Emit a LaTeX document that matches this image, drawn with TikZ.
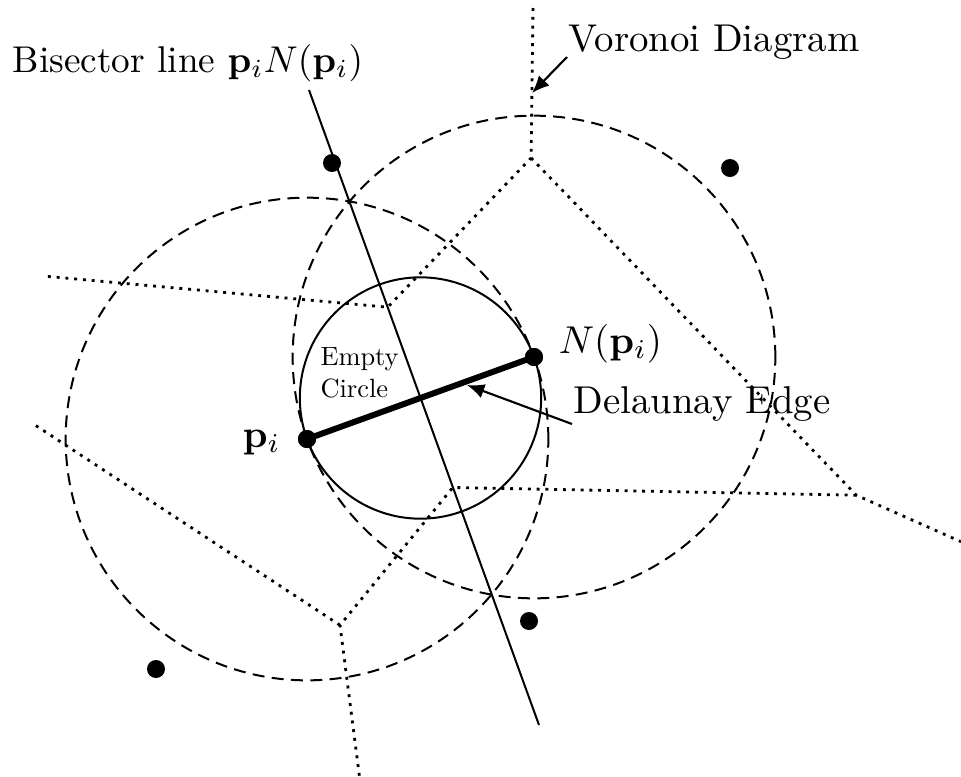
\RequirePackage{fix-cm}
\documentclass[tikz,border=0pt]{standalone}
\usetikzlibrary{arrows.meta}
\tikzset{
  site/.style={circle, fill=black, draw=none, inner sep=0pt, minimum size=13.5pt},
  dashc/.style={line width=1.5pt, dash pattern=on 9pt off 5.5pt},
  vor/.style={line width=2.1pt, dash pattern=on 2.2pt off 4.4pt},
  solidc/.style={line width=1.5pt},
  dedge/.style={line width=4.5pt},
  pointer/.style={line width=1.6pt, -{Latex[length=13pt,width=11pt]}},
  lab/.style={inner sep=0pt, anchor=base west, font=\fontsize{10}{12}\selectfont, scale=2.91},
  smalllab/.style={inner sep=0pt, anchor=base west, font=\fontsize{10}{12}\selectfont, scale=1.98}
}
\begin{document}
\begin{tikzpicture}[x=0.75pt,y=-0.75pt]
\useasboundingbox (0,0) rectangle (961,776);
% sites
\node[site] (pi) at (307,439) {};
\node[site] (npi) at (534,357) {};
\node[site] (stop) at (332,163) {};
\node[site] (stopr) at (730,168) {};
\node[site] (sbot) at (529,621) {};
\node[site] (sbotl) at (156,669) {};
% helper coordinates
\coordinate (mid) at (420.5,398);
\coordinate (bisT) at (309,90);
\coordinate (bisB) at (539,725);
% Voronoi vertices
\coordinate (v1) at (531.1,157.9);
\coordinate (v2) at (387.7,307.2);
\coordinate (v3) at (856.3,495.2);
\coordinate (v4) at (452.8,487.5);
\coordinate (v5) at (340,625.2);
\coordinate (e1) at (533,8);
\coordinate (e2) at (43,276);
\coordinate (e3) at (961,541.7);
\coordinate (e5a) at (359.4,776);
\coordinate (e5b) at (35,425);
% dashed circles
\draw[dashc] (pi.center) circle[radius=181pt];
\draw[dashc] (npi.center) circle[radius=181pt];
% empty circle
\draw[solidc] (mid) circle[radius=90.5pt];
% Voronoi diagram
\draw[vor] (e1) -- (v1) -- (v2) -- (e2);
\draw[vor] (v1) -- (v3) -- (e3);
\draw[vor] (v3) -- (v4) -- (v5) -- (e5a);
\draw[vor] (v5) -- (e5b);
% bisector
\draw[solidc] (bisT) -- (bisB);
% Delaunay edge
\draw[dedge] (pi.center) -- (npi.center);
% redraw sites on top
\node[site] at (pi) {};
\node[site] at (npi) {};
% labels
\node[lab, scale=0.96] (bislab) at (12,72) {Bisector line $\mathbf{p}_i N(\mathbf{p}_i)$};
\node[lab] (vorlab) at (568,51) {Voronoi Diagram};
\node[lab] (dellab) at (573,413) {Delaunay Edge};
\node[lab] (nlab) at (558,353) {$N(\mathbf{p}_i)$};
\node[lab] (plab) at (242,447) {$\mathbf{p}_i$};
\node[smalllab] (emp1) at (320,365) {Empty};
\node[smalllab] (emp2) at (320,397) {Circle};
% pointers
\coordinate (vorfrom) at (567,57);
\coordinate (vorto) at (532,93);
\coordinate (delfrom) at (572,424);
\coordinate (delto) at (467,385);
\draw[pointer] (vorfrom) -- (vorto);
\draw[pointer] (delfrom) -- (delto);
\end{tikzpicture}
\end{document}
